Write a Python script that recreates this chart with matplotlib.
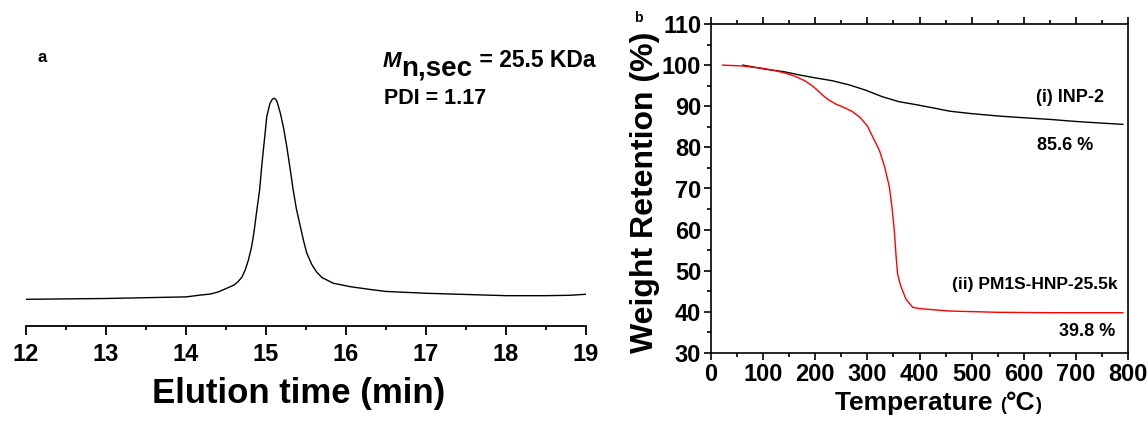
import matplotlib
matplotlib.use("Agg")
import matplotlib.pyplot as plt
from matplotlib.ticker import MultipleLocator

plt.rcParams["font.family"] = ["Liberation Sans", "DejaVu Sans"]
plt.rcParams["font.weight"] = "bold"

# ---- SEC trace (panel a) ----
sec_time = [12.00, 13.00, 14.00, 14.18, 14.30, 14.40, 14.51, 14.60, 14.65, 14.70,
            14.74, 14.78, 14.82, 14.85, 14.88, 14.92, 14.95, 14.98, 15.01, 15.05,
            15.08, 15.10, 15.12, 15.14, 15.18, 15.22, 15.26, 15.30, 15.34, 15.38,
            15.43, 15.47, 15.51, 15.57, 15.63, 15.70, 15.84, 16.05, 16.30, 16.50,
            17.00, 17.50, 18.00, 18.50, 18.80, 19.00]
sec_signal = [0.001, 0.005, 0.013, 0.022, 0.027, 0.037, 0.056, 0.072, 0.088, 0.112,
              0.147, 0.196, 0.262, 0.335, 0.428, 0.544, 0.677, 0.793, 0.910, 0.975,
              0.996, 1.000, 0.996, 0.981, 0.925, 0.852, 0.759, 0.654, 0.544, 0.450,
              0.362, 0.291, 0.230, 0.176, 0.138, 0.109, 0.081, 0.064, 0.050, 0.040,
              0.031, 0.025, 0.019, 0.019, 0.021, 0.026]

# ---- TGA curves (panel b) ----
inp_temp = [61, 105, 140, 170, 200, 233, 265, 297, 329, 361, 393, 430, 458, 500,
            554, 600, 650, 700, 750, 790]
inp_weight = [100.0, 99.0, 98.4, 97.6, 96.9, 96.2, 95.2, 93.9, 92.3, 91.1, 90.4,
              89.5, 88.8, 88.2, 87.6, 87.2, 86.8, 86.3, 85.9, 85.6]

hnp_temp = [22, 60, 100, 125, 144, 163, 180, 195, 205, 215, 225, 240, 255, 270,
            285, 300, 310, 323, 333, 342, 347, 352, 355, 358, 364, 374, 387, 400,
            419, 458, 550, 650, 790]
hnp_weight = [100.0, 99.8, 99.2, 98.6, 98.0, 97.2, 96.2, 94.9, 93.8, 92.6, 91.6,
              90.5, 89.7, 88.8, 87.4, 85.2, 82.6, 79.3, 75.3, 70.5, 65.7, 59.3,
              53.6, 49.2, 46.3, 43.1, 41.1, 40.8, 40.6, 40.2, 39.9, 39.8, 39.8]

W, H = 1148, 423
fig = plt.figure(figsize=(W / 100, H / 100), dpi=100)
renderer = fig.canvas.get_renderer()


def chain(x_px, y_px, pieces):
    """Draw text pieces one after another along a common baseline (pixel coords from top-left)."""
    x = x_px
    for txt, size, dy, extra in pieces:
        t = fig.text(x / W, 1 - (y_px + dy) / H, txt, fontsize=size, fontweight="bold",
                     ha="left", va="baseline", **extra)
        bb = t.get_window_extent(renderer)
        x = bb.x1


# ---------------- panel a ----------------
axa = fig.add_axes([26 / W, (H - 326) / H, 560 / W, 286 / H])
axa.plot(sec_time, sec_signal, color="black", lw=1.0)
axa.set_xlim(12, 19)
axa.set_ylim(-0.1317, 1.2898)
for s in ("left", "right", "top"):
    axa.spines[s].set_visible(False)
axa.spines["bottom"].set_linewidth(1.3)
axa.set_yticks([])
axa.xaxis.set_major_locator(MultipleLocator(1))
axa.xaxis.set_minor_locator(MultipleLocator(0.5))
axa.tick_params(axis="x", which="major", direction="out", length=6.5, width=1.3,
                labelsize=17, pad=6)
axa.tick_params(axis="x", which="minor", direction="out", length=3, width=1.3)
for lab in axa.get_xticklabels():
    lab.set_fontweight("bold")
fig.text(299 / W, 1 - 393 / H, "Elution time (min)", fontsize=25, fontweight="bold",
         ha="center", va="center")

fig.text(42 / W, 1 - 58 / H, "a", fontsize=12, fontweight="bold", ha="center", va="center")
chain(383, 67, [("M", 16, 0, {"style": "italic"}),
                ("n,sec", 20, 8, {}),
                (" = 25.5 KDa", 16.5, 0, {})])
fig.text(384 / W, 1 - 104 / H, "PDI = 1.17", fontsize=15.5, fontweight="bold",
         ha="left", va="baseline")

# ---------------- panel b ----------------
axb = fig.add_axes([711 / W, (H - 353) / H, 417 / W, 329 / H])
axb.plot(inp_temp, inp_weight, color="black", lw=1.0)
axb.plot(hnp_temp, hnp_weight, color="red", lw=1.0)
axb.set_xlim(0, 800)
axb.set_ylim(30, 110)
for s in axb.spines.values():
    s.set_linewidth(1.2)
axb.xaxis.set_major_locator(MultipleLocator(100))
axb.xaxis.set_minor_locator(MultipleLocator(50))
axb.yaxis.set_major_locator(MultipleLocator(10))
axb.yaxis.set_minor_locator(MultipleLocator(5))
axb.tick_params(which="major", direction="out", length=5, width=1.2, labelsize=17,
                top=True, right=False, pad=2)
axb.tick_params(which="minor", direction="out", length=3, width=1.2, top=True, right=False)
for lab in axb.get_xticklabels() + axb.get_yticklabels():
    lab.set_fontweight("bold")

fig.text(645 / W, 1 - 192 / H, "Weight Retention (%)", fontsize=23, fontweight="bold",
         rotation=90, ha="center", va="center")
chain(835, 410, [("Temperature ", 19, 0, {}),
                 ("(", 13, 0, {}),
                 ("°C", 19, 0, {}),
                 (")", 13, 0, {})])

fig.text(638 / W, 1 - 18 / H, "b", fontsize=10, fontweight="bold", ha="center", va="center")
fig.text(1070 / W, 1 - 98 / H, "(i) INP-2", fontsize=13, fontweight="bold",
         ha="center", va="center")
fig.text(1065 / W, 1 - 145 / H, "85.6 %", fontsize=13, fontweight="bold",
         ha="center", va="center")
fig.text(1035 / W, 1 - 284 / H, "(ii) PM1S-HNP-25.5k", fontsize=12.5, fontweight="bold",
         ha="center", va="center")
fig.text(1087 / W, 1 - 331 / H, "39.8 %", fontsize=13, fontweight="bold",
         ha="center", va="center")

fig.savefig("out.png", dpi=100)
